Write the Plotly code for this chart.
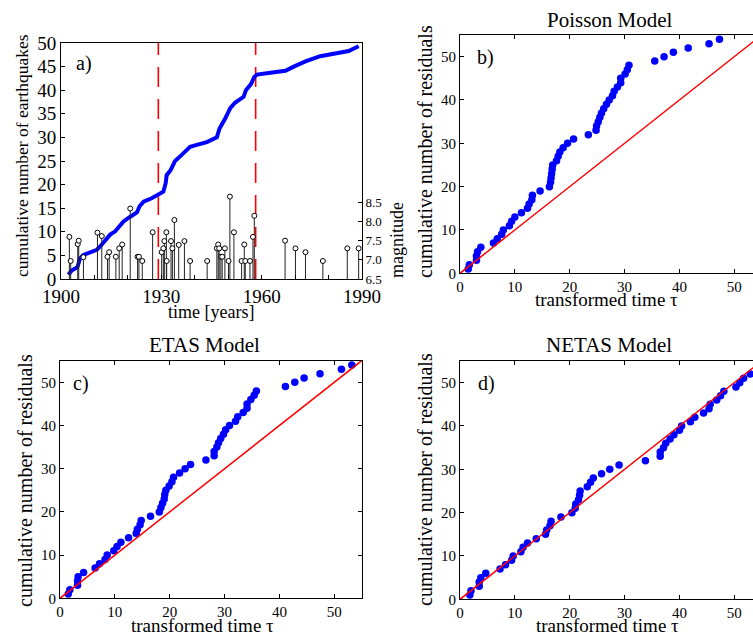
import plotly.graph_objects as go

W, H = 753, 640

# ---------------- data ----------------
# panel a: cumulative number of earthquakes
curve_year = [1902.2, 1903.2, 1904.9, 1905.7, 1906.7, 1910.7, 1911.7, 1913.2, 1914.7, 1916.2,
              1918.7, 1920.7, 1922.7, 1923.5, 1924.7, 1927.1, 1929.4, 1930.6, 1931.3, 1931.6,
              1932.8, 1934.1, 1936.1, 1938.6, 1940.6, 1943.6, 1946.6, 1947.4, 1949.1, 1950.6,
              1952.1, 1954.6, 1955.3, 1956.8, 1957.8, 1958.6, 1962.6, 1967.1, 1969.6, 1973.1,
              1977.5, 1981.5, 1986.0, 1989.0]
curve_count = [0.9, 1.8, 2.5, 4.4, 5.1, 6.2, 6.9, 8.3, 9.4, 10.1,
               12.2, 13.2, 14.1, 15.4, 16.4, 17.1, 18.0, 18.5, 20.3, 22.0,
               23.1, 25.0, 26.3, 28.0, 28.4, 29.0, 30.0, 31.9, 34.0, 36.2,
               37.4, 38.6, 40.0, 41.3, 42.8, 43.3, 43.7, 44.1, 45.0, 46.1,
               47.2, 47.8, 48.3, 49.3]

# panel a: individual events (stem plot)
quake_year = [1902.5, 1902.9, 1905.0, 1905.3, 1906.7, 1910.9, 1912.2, 1913.9, 1914.4, 1916.4,
              1917.4, 1918.3, 1920.7, 1922.9, 1923.3, 1924.3, 1927.4, 1930.1, 1930.6, 1930.9,
              1931.5, 1931.6, 1932.9, 1933.3, 1933.9, 1935.2, 1936.9, 1938.6, 1943.7, 1946.6,
              1947.0, 1947.3, 1947.8, 1948.2, 1949.0, 1950.1, 1950.5, 1951.7, 1954.0, 1954.8,
              1955.1, 1956.5, 1957.4, 1957.8, 1967.0, 1970.1, 1973.1, 1978.3, 1985.6, 1989.0]
quake_mag = [7.60, 6.97, 7.41, 7.50, 7.07, 7.71, 7.62, 7.08, 7.20, 7.08,
             7.30, 7.40, 8.34, 7.08, 7.08, 6.97, 7.72, 7.20, 7.30, 7.49,
             7.72, 6.97, 7.49, 7.30, 8.04, 7.39, 7.49, 6.97, 6.97, 7.30,
             7.40, 7.30, 7.08, 7.08, 7.30, 6.97, 8.65, 7.72, 6.97, 7.40,
             6.97, 6.97, 7.60, 8.15, 7.50, 7.30, 7.20, 6.97, 7.30, 7.30]

change_years = [1929.1, 1958.2]
year_ticks = [1900, 1930, 1960, 1990]
year_minor = [1900, 1910, 1920, 1930, 1940, 1950, 1960, 1970, 1980, 1990]
mag_ticks = [6.5, 7.0, 7.5, 8.0, 8.5]

# panels b-d: cumulative number of residuals vs transformed time
residual_count = [1, 2, 3, 4, 5, 6, 7, 8, 9, 10, 11, 12, 13, 14, 15, 16, 17, 18, 19, 20,
                  21, 22, 23, 24, 25, 26, 27, 28, 29, 30, 31, 32, 33, 34, 35, 36, 37, 38, 39, 40,
                  41, 42, 43, 44, 45, 46, 47, 48, 49, 50, 51, 52, 53, 54]
tau_poisson = [1.5, 1.7, 3.0, 3.0, 3.2, 3.8, 6.1, 6.8, 7.6, 7.9,
               9.0, 9.4, 10.0, 11.2, 12.3, 12.6, 13.1, 13.2, 14.6, 16.3,
               16.5, 16.6, 16.7, 16.8, 16.9, 17.6, 17.9, 18.2, 18.8, 19.6,
               20.7, 23.4, 24.8, 24.9, 25.2, 25.5, 25.8, 26.2, 26.7, 27.2,
               27.8, 28.1, 28.7, 29.3, 29.3, 30.1, 30.5, 30.8, 35.5, 37.2,
               38.9, 41.6, 45.4, 47.3]
tau_etas = [1.5, 1.8, 3.2, 3.2, 3.3, 4.3, 6.4, 7.2, 8.2, 8.6,
            9.8, 10.4, 11.1, 12.5, 13.9, 14.1, 14.6, 14.8, 16.5, 18.1,
            18.4, 18.7, 19.0, 19.1, 19.3, 19.9, 20.4, 20.7, 21.8, 22.8,
            23.8, 26.6, 28.1, 28.1, 28.6, 28.9, 29.3, 29.8, 30.2, 30.9,
            32.0, 32.4, 33.4, 34.1, 34.1, 34.8, 35.4, 35.8, 41.1, 42.8,
            44.5, 47.4, 51.3, 53.2]
tau_netas = [1.8, 2.0, 3.5, 3.5, 3.8, 4.7, 7.3, 8.3, 9.4, 9.7,
             11.1, 11.5, 12.3, 13.9, 15.6, 15.8, 16.4, 16.6, 18.4, 20.4,
             21.0, 21.1, 21.6, 21.8, 21.9, 23.2, 23.8, 24.3, 25.8, 27.3,
             29.0, 33.8, 36.5, 36.5, 37.1, 37.5, 38.3, 39.0, 40.0, 40.4,
             42.0, 42.8, 44.4, 45.4, 45.6, 46.8, 47.5, 48.1, 50.3, 51.0,
             51.7, 52.9]
ref_line = [0, 55]
res_ticks = [0, 10, 20, 30, 40, 50]

# ---------------- helpers ----------------
FONT = "Liberation Serif, Times New Roman, serif"


def px_x(x):
    return x / W


def px_y(y):
    return 1 - y / H


fig = go.Figure()

# panel a
stem_x, stem_y = [], []
for yr, m in zip(quake_year, quake_mag):
    stem_x += [yr, yr, None]
    stem_y += [mag_ticks[0], m, None]

fig.add_trace(go.Scatter(x=stem_x, y=stem_y, mode="lines", xaxis="x", yaxis="y2",
                         line=dict(color="#222222", width=1), hoverinfo="skip"))
fig.add_trace(go.Scatter(x=quake_year, y=quake_mag, mode="markers", xaxis="x", yaxis="y2",
                         marker=dict(symbol="circle", size=5, color="white",
                                     line=dict(color="black", width=1))))
for cy in change_years:
    fig.add_trace(go.Scatter(x=[cy, cy], y=[0, 50], mode="lines", xaxis="x", yaxis="y",
                             line=dict(color="red", width=1.6, dash="20px,12px")))
fig.add_trace(go.Scatter(x=curve_year, y=curve_count, mode="lines", xaxis="x", yaxis="y",
                         line=dict(color="#0000ff", width=4)))

# panels b, c, d
panels = [("x3", "y3", tau_poisson), ("x4", "y4", tau_etas), ("x5", "y5", tau_netas)]
for xa, ya, tau in panels:
    fig.add_trace(go.Scatter(x=tau, y=residual_count[:len(tau)], mode="markers", xaxis=xa, yaxis=ya,
                             marker=dict(color="#0000ff", size=7.5)))
    fig.add_trace(go.Scatter(x=ref_line, y=ref_line, mode="lines", xaxis=xa, yaxis=ya,
                             line=dict(color="red", width=1.5)))

axis_common = dict(showline=True, linecolor="black", linewidth=1, ticks="inside",
                   tickcolor="black", ticklen=4, showgrid=False, zeroline=False,
                   automargin=False,
                   tickfont=dict(family=FONT, size=15, color="black"))

# full panel b/d width would be 460..761.7 px, clipped by the picture edge at 753
full_right = 761.7
vis_right = 753
bx = [px_x(460), px_x(vis_right)]
bx_range = [0, 55 * (vis_right - 460) / (full_right - 460)]
ax_a_x = [px_x(61), px_x(362)]
ax_a_y = [px_y(279), px_y(43)]
cx = [px_x(60), px_x(361.7)]
b_y = [px_y(273.3), px_y(35)]
c_y = [px_y(598.3), px_y(360.7)]
d_y = [px_y(599.3), px_y(361)]

layout = dict(
    template="none",
    width=W, height=H, margin=dict(l=0, r=0, t=0, b=0, pad=0, autoexpand=False),
    paper_bgcolor="white", plot_bgcolor="white", showlegend=False,
    font=dict(family=FONT, color="black"),
    xaxis=dict(axis_common, domain=ax_a_x, range=[1900, 1990], anchor="y", mirror=True,
               tickvals=year_minor,
               ticktext=[str(v) if v in year_ticks else "" for v in year_minor],
               tickfont=dict(family=FONT, size=19, color="black")),
    yaxis=dict(axis_common, domain=ax_a_y, range=[0, 50], anchor="x", dtick=5,
               tickfont=dict(family=FONT, size=19, color="black")),
    yaxis2=dict(axis_common, overlaying="y", side="right", anchor="x",
                range=[6.5, 12.66], tickvals=mag_ticks,
                ticktext=["%.1f" % v for v in mag_ticks],
                tickfont=dict(family=FONT, size=13, color="black")),
    xaxis3=dict(axis_common, domain=bx, range=bx_range, anchor="y3", mirror="ticks",
                tickvals=res_ticks),
    yaxis3=dict(axis_common, domain=b_y, range=[0, 55], anchor="x3",
                tickvals=res_ticks),
    xaxis4=dict(axis_common, domain=cx, range=[0, 55], anchor="y4", mirror="ticks",
                tickvals=res_ticks),
    yaxis4=dict(axis_common, domain=c_y, range=[0, 55], anchor="x4", mirror="ticks",
                tickvals=res_ticks),
    xaxis5=dict(axis_common, domain=bx, range=bx_range, anchor="y5", mirror="ticks",
                tickvals=res_ticks),
    yaxis5=dict(axis_common, domain=d_y, range=[0, 55], anchor="x5",
                tickvals=res_ticks),
)
fig.update_layout(**layout)


def note(text, x, y, size, angle=0):
    fig.add_annotation(text=text, x=px_x(x), y=px_y(y), xref="paper", yref="paper",
                       showarrow=False, xanchor="center", yanchor="middle",
                       textangle=angle, font=dict(family=FONT, size=size, color="black"))


# titles
note("Poisson Model", 610, 20, 21)
note("ETAS Model", 205, 345, 21)
note("NETAS Model", 609, 345, 21)
# panel labels
note("a)", 84, 64, 20)
note("b)", 485, 58, 20)
note("c)", 81, 383, 20)
note("d)", 486, 383, 20)
# axis titles
note("time [years]", 211, 312, 18)
note("cumulative number of earthquakes", 22, 156, 17.5, -90)
note("magnitude", 397, 240, 18, -90)
note("cumulative number of residuals", 425, 152, 20, -90)
note("transformed time τ", 606, 299, 19)
note("cumulative number of residuals", 25, 481, 20, -90)
note("transformed time τ", 202, 625, 19)
note("cumulative number of residuals", 425, 480, 20, -90)
note("transformed time τ", 607, 625, 19)

# remove the browser's default page margin so the figure fills the window
fig.write_html("out.html",
               config={"displayModeBar": False},
               post_script="document.body.style.margin='0';document.body.style.overflow='hidden';")
